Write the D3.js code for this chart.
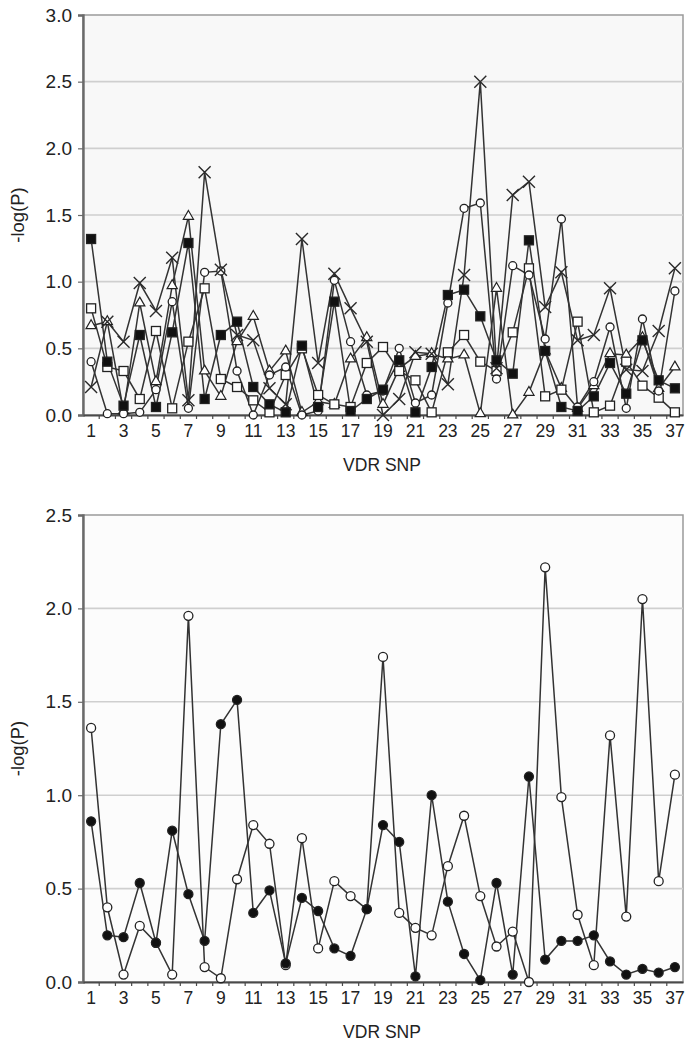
<!DOCTYPE html>
<html>
<head>
<meta charset="utf-8">
<script src="https://cdn.jsdelivr.net/npm/d3@7"></script>
<style>
  html, body { margin: 0; padding: 0; background: #ffffff; }
  svg { display: block; font-family: "Liberation Sans", Arial, Helvetica, sans-serif; }
</style>
</head>
<body>
<svg id="chart" width="691" height="1050"></svg>
<script>
// ---------- data ----------
const snps = d3.range(1, 38);

// top panel
const topTicks = [0, 0.5, 1.0, 1.5, 2.0, 2.5, 3.0];
const topFilledSquare = [1.32,0.40,0.07,0.60,0.06,0.62,1.29,0.12,0.60,0.70,0.21,0.08,0.02,0.52,0.06,0.85,0.03,0.12,0.19,0.41,0.02,0.36,0.90,0.94,0.74,0.41,0.31,1.31,0.48,0.06,0.03,0.14,0.39,0.16,0.56,0.26,0.20];
const topOpenSquare   = [0.80,0.36,0.33,0.12,0.63,0.05,0.55,0.95,0.27,0.21,0.11,0.02,0.30,0.50,0.15,0.08,0.06,0.39,0.51,0.33,0.26,0.02,0.47,0.60,0.40,0.33,0.62,1.10,0.14,0.19,0.70,0.02,0.07,0.40,0.22,0.13,0.02];
const topTriangle     = [0.67,0.70,0.03,0.84,0.25,0.97,1.49,0.33,0.14,0.55,0.74,0.33,0.48,0.02,0.10,0.08,0.42,0.58,0.08,0.35,0.44,0.46,0.42,0.45,0.01,0.95,0.00,0.17,0.48,0.20,0.05,0.22,0.46,0.45,0.58,0.20,0.36];
const topCircle       = [0.40,0.01,0.01,0.02,0.19,0.85,0.05,1.07,1.08,0.33,0.00,0.30,0.36,0.00,0.03,1.01,0.55,0.15,0.18,0.50,0.09,0.15,0.84,1.55,1.59,0.27,1.12,1.05,0.57,1.47,0.06,0.25,0.66,0.05,0.72,0.18,0.93];
const topCross        = [0.21,0.70,0.55,0.99,0.78,1.18,0.11,1.82,1.09,0.60,0.56,0.20,0.08,1.32,0.39,1.06,0.80,0.55,0.00,0.12,0.47,0.46,0.23,1.05,2.50,0.35,1.65,1.75,0.81,1.07,0.56,0.60,0.95,0.34,0.33,0.63,1.10];

// bottom panel
const bottomTicks = [0, 0.5, 1.0, 1.5, 2.0, 2.5];
const bottomOpenCircle   = [1.36,0.40,0.04,0.30,0.21,0.04,1.96,0.08,0.02,0.55,0.84,0.74,0.09,0.77,0.18,0.54,0.46,0.39,1.74,0.37,0.29,0.25,0.62,0.89,0.46,0.19,0.27,0.00,2.22,0.99,0.36,0.09,1.32,0.35,2.05,0.54,1.11];
const bottomFilledCircle = [0.86,0.25,0.24,0.53,0.21,0.81,0.47,0.22,1.38,1.51,0.37,0.49,0.10,0.45,0.38,0.18,0.14,0.39,0.84,0.75,0.03,1.00,0.43,0.15,0.01,0.53,0.04,1.10,0.12,0.22,0.22,0.25,0.11,0.04,0.07,0.05,0.08];

const xTitle = "VDR SNP";
const yTitle = "-log(P)";

// ---------- drawing ----------
const svg = d3.select("#chart");
const left = 83, right = 683;
const lineColor = "#333";

function panel(cfg) {
  const g = svg.append("g");
  const x = d3.scaleBand().domain(snps).range([left, right]).padding(0);
  const cx = d => x(d) + x.bandwidth() / 2;
  const y = d3.scaleLinear().domain([0, cfg.ymax]).range([cfg.bottom, cfg.top]);

  // background
  g.append("rect").attr("x", left).attr("y", cfg.top)
    .attr("width", right - left).attr("height", cfg.bottom - cfg.top)
    .attr("fill", cfg.bg).attr("stroke", "#9a9a9a").attr("stroke-width", 1.5);

  // grid
  g.selectAll(".grid").data(cfg.ticks.filter(t => t > 0 && t < cfg.ymax)).join("line")
    .attr("x1", left).attr("x2", right)
    .attr("y1", d => y(d)).attr("y2", d => y(d))
    .attr("stroke", "#cfcfcf").attr("stroke-width", 1.6);

  // y axis
  const ya = g.append("g").attr("transform", `translate(${left},0)`)
    .call(d3.axisLeft(y).tickValues(cfg.ticks).tickFormat(d3.format(".1f")).tickSize(5).tickPadding(6));
  ya.select(".domain").attr("stroke", "#6a6a6a").attr("stroke-width", 2.4);
  ya.selectAll(".tick line").attr("stroke", "#6a6a6a").attr("stroke-width", 1.2);
  ya.selectAll("text").attr("font-size", 19).attr("fill", "#222")
    .attr("font-family", "'Liberation Sans', Arial, sans-serif");

  // x axis (labels at centres, ticks at band boundaries)
  const xa = g.append("g").attr("transform", `translate(0,${cfg.bottom})`)
    .call(d3.axisBottom(x).tickSize(0).tickPadding(10).tickFormat(d => d % 2 === 1 ? d : ""));
  xa.select(".domain").attr("stroke", "#4a4a4a").attr("stroke-width", 2);
  xa.selectAll("text").attr("font-size", 17.5).attr("fill", "#222")
    .attr("font-family", "'Liberation Sans', Arial, sans-serif");
  g.selectAll(".xtick").data(snps.slice(1)).join("line")
    .attr("x1", d => x(d)).attr("x2", d => x(d))
    .attr("y1", cfg.bottom).attr("y2", cfg.bottom + 4)
    .attr("stroke", "#4a4a4a").attr("stroke-width", 1.2);

  // titles
  g.append("text").attr("x", (left + right) / 2 - 1).attr("y", cfg.bottom + 56)
    .attr("text-anchor", "middle").attr("font-size", 17.5).attr("fill", "#222").text(xTitle);
  g.append("text")
    .attr("transform", `translate(24,${(cfg.top + cfg.bottom) / 2}) rotate(-90)`)
    .attr("text-anchor", "middle").attr("font-size", 18.5).attr("fill", "#222").text(yTitle);

  const line = d3.line().x((d, i) => cx(snps[i])).y(d => y(d));

  cfg.series.forEach(s => {
    g.append("path").datum(s.values).attr("d", line)
      .attr("fill", "none").attr("stroke", lineColor).attr("stroke-width", 1.5);
  });
  cfg.series.forEach(s => {
    const mg = g.append("g");
    s.values.forEach((v, i) => {
      const px = cx(snps[i]), py = y(v);
      if (s.shape === "cross") {
        const r = 6;
        mg.append("path").attr("d", `M${px-r},${py-r}L${px+r},${py+r}M${px-r},${py+r}L${px+r},${py-r}`)
          .attr("stroke", "#2a2a2a").attr("stroke-width", 1.4).attr("fill", "none");
      } else if (s.shape === "square") {
        mg.append("rect").attr("x", px - 4.5).attr("y", py - 4.5).attr("width", 9).attr("height", 9)
          .attr("fill", s.fill).attr("stroke", "#222").attr("stroke-width", 1.3);
      } else if (s.shape === "triangle") {
        mg.append("path").attr("d", d3.symbol().type(d3.symbolTriangle).size(45)())
          .attr("transform", `translate(${px},${py})`)
          .attr("fill", "#fff").attr("stroke", "#222").attr("stroke-width", 1.2);
      } else {
        mg.append("circle").attr("cx", px).attr("cy", py).attr("r", s.r || 3.8)
          .attr("fill", s.fill).attr("stroke", "#222").attr("stroke-width", 1.3);
      }
    });
  });
}

panel({
  top: 15, bottom: 415, ymax: 3.0, ticks: topTicks, bg: "#f8f8f8",
  series: [
    { values: topTriangle, shape: "triangle" },
    { values: topOpenSquare, shape: "square", fill: "#fff" },
    { values: topCircle, shape: "circle", fill: "#fff", r: 4 },
    { values: topCross, shape: "cross" },
    { values: topFilledSquare, shape: "square", fill: "#111" }
  ]
});

panel({
  top: 515, bottom: 982, ymax: 2.5, ticks: bottomTicks, bg: "#fcfcfc",
  series: [
    { values: bottomOpenCircle, shape: "circle", fill: "#fff", r: 4.5 },
    { values: bottomFilledCircle, shape: "circle", fill: "#111", r: 4.5 }
  ]
});
</script>
</body>
</html>
